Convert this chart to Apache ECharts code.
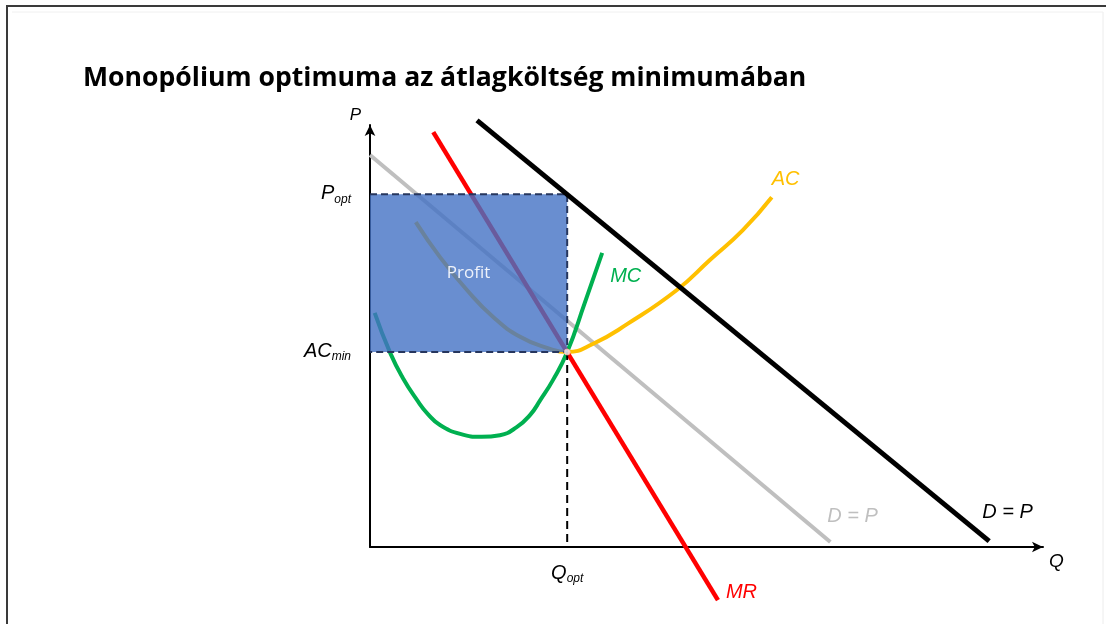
<!DOCTYPE html>
<html>
<head>
<meta charset="utf-8">
<script src="https://cdn.jsdelivr.net/npm/echarts@6/dist/echarts.min.js"></script>
<style>
  html, body { margin: 0; padding: 0; background: #ffffff; }
  #chart { width: 1106px; height: 624px; }
</style>
</head>
<body>
<div id="chart"></div>
<script>
// ---- values (quantity Q on x, price P on y, arbitrary units) ----
const titleText = 'Monopólium optimuma az átlagköltség minimumában';
const qOpt = 2.93;
const pOpt = 8.36;
const acMin = 4.62;

const demandOuter = [[1.59, 10.11], [9.20, 0.14]];
const demandInner = [[0.00, 9.29], [6.84, 0.12]];
const marginalRevenue = [[0.94, 9.83], [5.17, -1.26]];
const marginalCost = [
  [0.07, 5.55], [0.30, 4.60], [0.49, 4.00], [0.70, 3.48], [0.86, 3.15],
  [1.04, 2.89], [1.34, 2.68], [1.66, 2.61], [1.93, 2.65], [2.18, 2.84],
  [2.38, 3.13], [2.53, 3.48], [2.72, 3.96], [2.93, 4.62], [3.19, 5.78],
  [3.45, 6.97]
];
const averageCost = [
  [0.68, 7.70], [1.04, 6.87], [1.44, 6.09], [1.83, 5.45], [2.23, 4.98],
  [2.63, 4.72], [2.93, 4.62], [3.31, 4.81], [3.82, 5.28], [4.56, 6.09],
  [5.05, 6.80], [5.54, 7.51], [5.97, 8.29]
];

const curveLabels = { mr: 'MR', mc: 'MC', ac: 'AC', dInner: 'D = P', dOuter: 'D = P' };
const tickLabels = { pOpt: ['P', 'opt'], acMin: ['AC', 'min'], qOpt: ['Q', 'opt'] };
const axisNames = { x: 'Q', y: 'P' };
const areaLabel = 'Profit';

// ---- styling ----
const FONT = 'Liberation Sans';
const COLORS = {
  outer: '#000000', inner: '#bfbfbf', mr: '#ff0000', mc: '#00b050', ac: '#ffc000',
  profit: 'rgba(68, 114, 196, 0.80)', profitEdge: '#26365e'
};

// main letter sits at the top of the line box, the subscript is pushed down by padding
const richTick = {
  m: { fontFamily: FONT, fontStyle: 'italic', fontSize: 20, color: '#000', lineHeight: 22, verticalAlign: 'top' },
  s: { fontFamily: FONT, fontStyle: 'italic', fontSize: 12, color: '#000', lineHeight: 12, verticalAlign: 'bottom', padding: [11, 0, 0, 0] }
};
const tickText = (pair) => '{m|' + pair[0] + '}{s|' + pair[1] + '}';

function curve(name, data, color, width, z, label, offset) {
  return {
    name: name,
    type: 'line',
    data: data,
    showSymbol: false,
    symbol: 'none',
    clip: false,
    silent: true,
    z: z,
    lineStyle: { color: color, width: width },
    endLabel: {
      show: true,
      formatter: label,
      color: color,
      fontFamily: FONT,
      fontStyle: 'italic',
      fontSize: 20,
      distance: 0,
      offset: offset
    }
  };
}

const chart = echarts.init(document.getElementById('chart'), null, { renderer: 'canvas' });

const option = {
  animation: false,
  backgroundColor: '#ffffff',
  title: {
    text: titleText,
    left: 78,
    top: 60,
    textStyle: { fontFamily: 'Open Sans', fontWeight: 'bold', fontSize: 26.6, color: '#000000' }
  },
  grid: { left: 370, right: 63, top: 125, bottom: 77 },
  xAxis: {
    type: 'value', min: 0, max: 10,
    name: axisNames.x,
    nameLocation: 'end',
    nameGap: 6,
    nameTextStyle: { fontFamily: FONT, fontStyle: 'italic', fontSize: 19, color: '#000', verticalAlign: 'top', padding: [5, 0, 0, 0] },
    axisLine: { show: true, onZero: false, symbol: ['none', 'arrow'], symbolSize: [8, 11], lineStyle: { color: '#000', width: 2 } },
    axisTick: { show: false },
    splitLine: { show: false },
    axisLabel: {
      show: true,
      customValues: [qOpt],
      margin: 16,
      formatter: () => tickText(tickLabels.qOpt),
      rich: richTick
    }
  },
  yAxis: {
    type: 'value', min: 0, max: 10,
    name: axisNames.y,
    nameLocation: 'end',
    nameGap: 1,
    nameTextStyle: { fontFamily: FONT, fontStyle: 'italic', fontSize: 17, color: '#000', align: 'right', padding: [0, 9, 0, 0] },
    axisLine: { show: true, onZero: false, symbol: ['none', 'arrow'], symbolSize: [8, 11], lineStyle: { color: '#000', width: 2 } },
    axisTick: { show: false },
    splitLine: { show: false },
    axisLabel: {
      show: true,
      customValues: [acMin, pOpt],
      margin: 19,
      formatter: (v) => tickText(v === pOpt ? tickLabels.pOpt : tickLabels.acMin),
      rich: richTick
    }
  },
  series: [
    curve('D inner', demandInner, COLORS.inner, 4, 2, curveLabels.dInner, [-3, -25]),
    curve('MC', marginalCost, COLORS.mc, 4, 2, curveLabels.mc, [8, 24]),
    curve('AC', averageCost, COLORS.ac, 4, 2, curveLabels.ac, [0, -18]),
    curve('MR', marginalRevenue, COLORS.mr, 4.5, 2, curveLabels.mr, [8, -8]),
    {
      name: 'Profit',
      type: 'custom',
      silent: true,
      z: 3,
      clip: false,
      data: [[0, pOpt, qOpt, acMin]],
      renderItem: function (params, api) {
        const p0 = api.coord([api.value(0), api.value(1)]);
        const p1 = api.coord([api.value(2), api.value(3)]);
        return {
          type: 'group',
          children: [
            {
              type: 'rect',
              shape: { x: p0[0], y: p0[1], width: p1[0] - p0[0], height: p1[1] - p0[1] },
              style: { fill: COLORS.profit }
            },
            {
              type: 'text',
              x: (p0[0] + p1[0]) / 2,
              y: (p0[1] + p1[1]) / 2,
              style: {
                text: areaLabel, fill: '#eef2fb', font: '17px "Open Sans"',
                align: 'center', verticalAlign: 'middle'
              }
            }
          ]
        };
      }
    },
    {
      name: 'Profit edge',
      type: 'line',
      data: [[0, pOpt], [qOpt, pOpt], [qOpt, acMin], [0, acMin]],
      showSymbol: false, symbol: 'none', silent: true, z: 4,
      lineStyle: { color: COLORS.profitEdge, width: 2, type: [7, 4] }
    },
    {
      name: 'Q opt guide',
      type: 'line',
      data: [[qOpt, acMin], [qOpt, 0]],
      showSymbol: false, symbol: 'none', silent: true, z: 4,
      lineStyle: { color: '#000000', width: 2, type: [8, 5] }
    },
    curve('D outer', demandOuter, COLORS.outer, 5, 5, curveLabels.dOuter, [-7, -29]),
    {
      name: 'Optimum',
      type: 'scatter',
      data: [[qOpt, acMin]],
      symbolSize: 6,
      silent: true,
      z: 6,
      itemStyle: { color: '#ffffff', borderColor: '#f2b8a8', borderWidth: 1 }
    }
  ],
  graphic: [
    { type: 'line', shape: { x1: 6, y1: 6, x2: 1106, y2: 6 }, style: { stroke: '#3a3a3a', lineWidth: 2 }, silent: true },
    { type: 'line', shape: { x1: 7, y1: 6, x2: 7, y2: 624 }, style: { stroke: '#3a3a3a', lineWidth: 2 }, silent: true },
    { type: 'line', shape: { x1: 1103, y1: 12, x2: 1103, y2: 624 }, style: { stroke: '#ececec', lineWidth: 1 }, silent: true },
    { type: 'line', shape: { x1: 12, y1: 12, x2: 1103, y2: 12 }, style: { stroke: '#f0f0f0', lineWidth: 1 }, silent: true }
  ]
};

// the cost curves are drawn through their read-off points with spline smoothing
option.series.forEach(function (s) {
  if (s.name === 'MC' || s.name === 'AC') { s.smooth = 0.5; }
});

chart.setOption(option);
</script>
</body>
</html>
